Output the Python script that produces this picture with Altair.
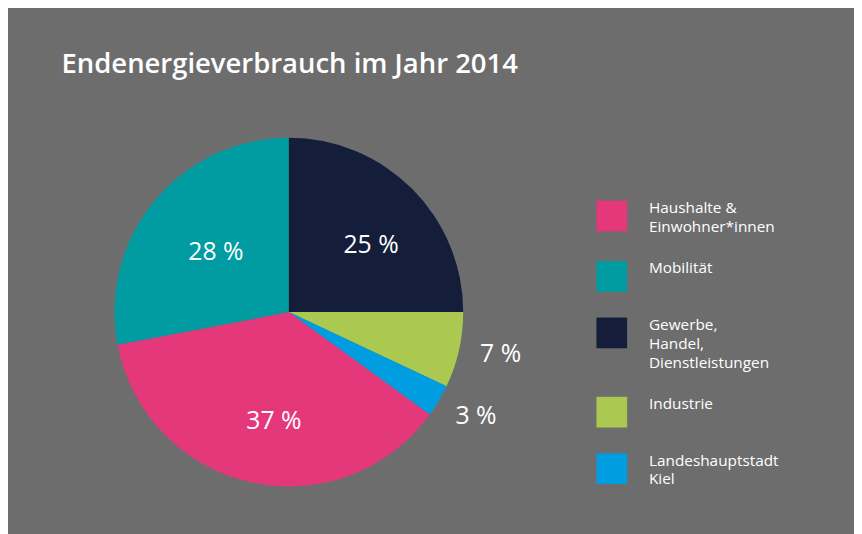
import altair as alt
import pandas as pd

# Legend order (as in the reference legend)
categories = [
    "Haushalte &|Einwohner*innen",
    "Mobilität",
    "Gewerbe,|Handel,|Dienstleistungen",
    " Industrie",
    "Landeshauptstadt|Kiel",
]
shares = [37, 28, 25, 7, 3]
colors = ["#e5387b", "#009ca1", "#141e3b", "#abc951", "#009de0"]
# clockwise order of the slices starting at 12 o'clock
pie_order = [
    "Gewerbe,|Handel,|Dienstleistungen",
    " Industrie",
    "Landeshauptstadt|Kiel",
    "Haushalte &|Einwohner*innen",
    "Mobilität",
]
title_text = "Endenergieverbrauch im Jahr 2014"

df = pd.DataFrame({"category": categories, "value": shares})
df["rank"] = df["category"].map({c: i for i, c in enumerate(pie_order)})
df["label"] = df["value"].astype(str) + " %"

FONT = "Open Sans"
CX, CY = 283.5, 304.5

base = alt.Chart(df).encode(
    theta=alt.Theta("value:Q", stack=True, scale=alt.Scale(domain=[0, 100])),
    order=alt.Order("rank:Q"),
    x=alt.value(CX),
    y=alt.value(CY),
)

arcs = base.mark_arc(outerRadius=176, stroke=None).encode(
    color=alt.Color(
        "category:N",
        scale=alt.Scale(domain=categories, range=colors),
        sort=categories,
        legend=alt.Legend(
            title=None,
            orient="none",
            legendX=594,
            legendY=192,
            symbolType="square",
            symbolSize=961,
            symbolStrokeWidth=0,
            symbolOpacity=1,
            labelExpr="split(datum.label, '|')",
            labelFont=FONT,
            labelFontSize=15.5,
            labelColor="white",
            labelOffset=22,
            labelBaseline="top",
            labelLimit=300,
            rowPadding=26,
        ),
    )
)

inner = base.mark_text(radius=106, font=FONT, fontSize=25, color="white",
                       align="center", baseline="middle", dx=8, dy=7).encode(
    text=alt.condition("datum.value >= 10", alt.Text("label:N"), alt.value(""))
)
outer = base.mark_text(radius=216, font=FONT, fontSize=25, color="white",
                       align="center", baseline="middle", dx=3, dy=-5).encode(
    text=alt.condition("datum.value < 10", alt.Text("label:N"), alt.value(""))
)

chart = (
    alt.layer(arcs, inner, outer)
    .properties(
        width=854,
        height=526,
        padding=0,
        autosize=alt.AutoSizeParams(type="none"),
        background="#6d6d6d",
        title=alt.Title(
            title_text,
            anchor="start",
            orient="top",
            frame="group",
            offset=0,
            dx=54,
            dy=91,
            baseline="alphabetic",
            font=FONT,
            fontSize=27.7,
            fontWeight=600,
            color="white",
        ),
    )
    .configure(
        view=alt.ViewConfig(stroke=None),
        style={"guide-label": {"lineHeight": 19, "dy": -15}},
    )
)

chart.save("out.html", embed_options={"renderer": "svg", "actions": False})
